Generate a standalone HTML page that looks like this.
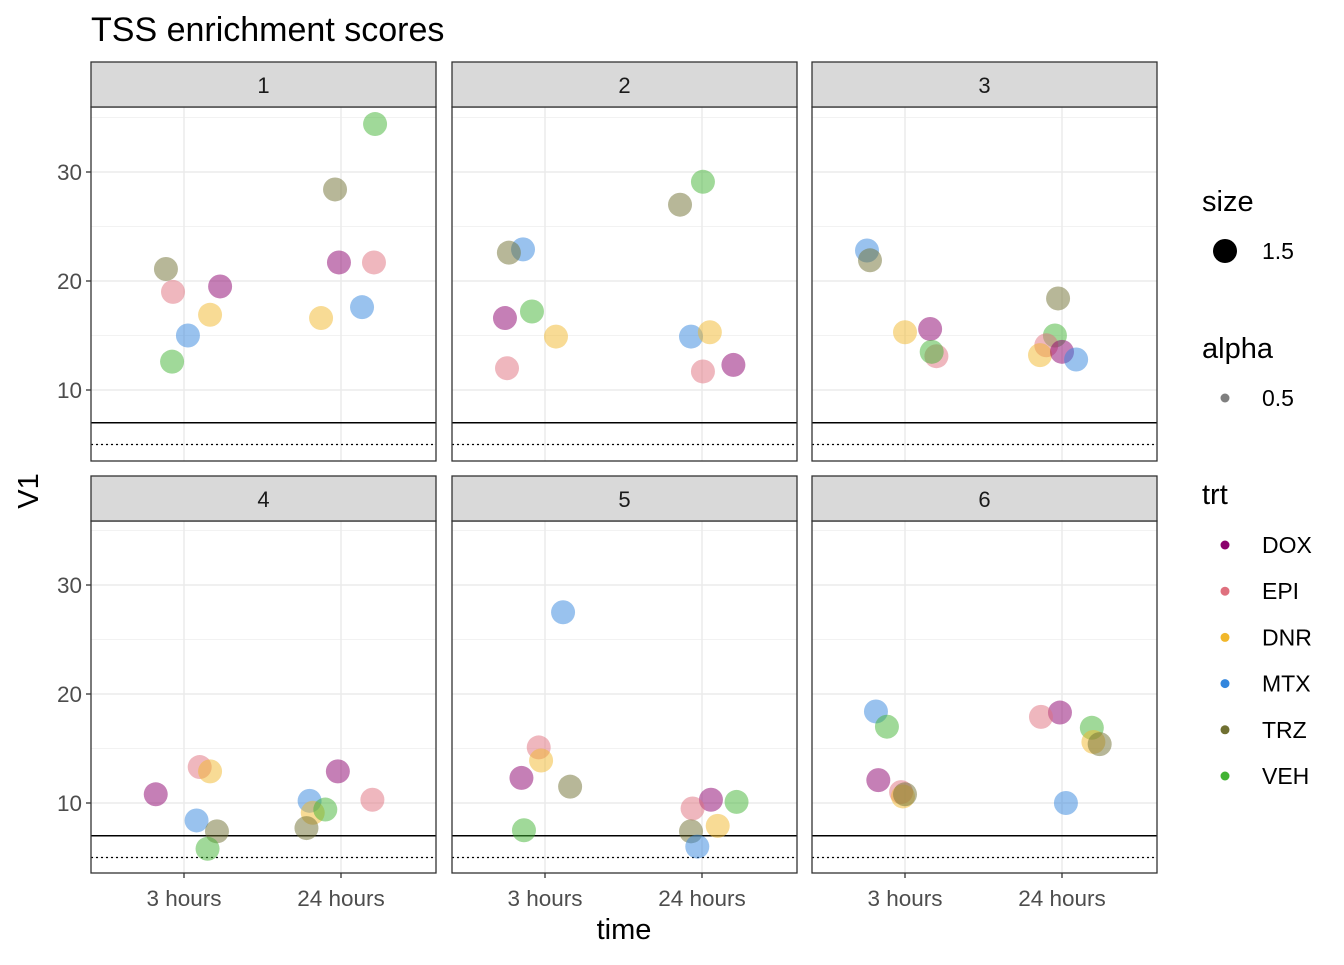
<!DOCTYPE html>
<html><head><meta charset="utf-8"><style>
body{margin:0;background:#fff;font-family:"Liberation Sans",Arial,sans-serif}
</style></head><body>
<svg id="chart" width="1344" height="960" xmlns="http://www.w3.org/2000/svg"></svg>
<script>
const panels=["1","2","3","4","5","6"];
const trtNames=["DOX","EPI","DNR","MTX","TRZ","VEH"];
const trtColors=["#8B006D","#DF707E","#F1B72B","#3386DD","#707031","#41B333"];
const xTickLabels=["3 hours","24 hours"];
const yTicks=[10,20,30];
// per panel: [trt index, jittered x position (1=3h,2=24h), value]
const panelData=[
[[4,0.885,21.1],[1,0.93,19.0],[0,1.23,19.5],[2,1.166,16.9],[3,1.025,15.0],[5,0.924,12.6],
 [5,2.217,34.4],[4,1.962,28.4],[0,1.987,21.7],[1,2.21,21.7],[2,1.873,16.6],[3,2.134,17.6]],
[[3,0.86,22.9],[4,0.77,22.6],[0,0.745,16.6],[5,0.917,17.2],[2,1.07,14.9],[1,0.758,12.0],
 [5,2.006,29.1],[4,1.86,27.0],[3,1.93,14.9],[2,2.05,15.3],[1,2.006,11.7],[0,2.2,12.3]],
[[3,0.758,22.8],[4,0.777,21.9],[2,1.0,15.3],[0,1.16,15.6],[1,1.2,13.1],[5,1.17,13.5],
 [4,1.975,18.4],[5,1.955,15.0],[1,1.9,14.1],[2,1.86,13.2],[0,2.0,13.5],[3,2.09,12.8]],
[[0,0.82,10.8],[1,1.1,13.3],[2,1.166,12.9],[3,1.08,8.4],[4,1.21,7.4],[5,1.15,5.8],
 [0,1.98,12.9],[1,2.2,10.3],[3,1.8,10.2],[2,1.82,9.1],[5,1.9,9.4],[4,1.78,7.7]],
[[3,1.115,27.5],[1,0.96,15.1],[2,0.975,13.9],[0,0.85,12.3],[4,1.16,11.5],[5,0.866,7.5],
 [0,2.057,10.3],[5,2.22,10.1],[1,1.94,9.5],[2,2.1,7.9],[4,1.93,7.4],[3,1.97,6.0]],
[[3,0.815,18.4],[5,0.885,17.0],[0,0.83,12.1],[1,0.975,11.0],[2,0.987,10.6],[4,1.0,10.8],
 [0,1.987,18.3],[1,1.866,17.9],[5,2.19,16.9],[2,2.2,15.6],[4,2.24,15.4],[3,2.025,10.0]]
];
const refLines=[7,5];
const svg=document.getElementById('chart');
const NS="http://www.w3.org/2000/svg";
function mk(tag,attrs,parent,text){const e=document.createElementNS(NS,tag);for(const k in attrs)e.setAttribute(k,attrs[k]);if(text!==undefined)e.textContent=text;(parent||svg).appendChild(e);return e;}
const colX=[91,452,812], W=345, rowY=[62,476], stripH=45, plotH=[354,352];
const pxPerUnit=10.9;
for(let p=0;p<6;p++){
  const c=p%3,r=Math.floor(p/3);
  const x0=colX[c], top=rowY[r]+stripH, h=plotH[r];
  const base10 = r===0?390:803;
  const ys=v=>base10-(v-10)*pxPerUnit;
  const xs=v=>x0+93+(v-1)*157;
  const g=mk('g',{},svg);
  
  
  mk('rect',{x:x0,y:top,width:W,height:h,fill:'#fff'},g);
  for(const v of [5,15,25,35]){const y=ys(v);if(y>top&&y<top+h)mk('line',{x1:x0,x2:x0+W,y1:y,y2:y,stroke:'#f2f2f2','stroke-width':1},g);}
  for(const v of yTicks){const l=mk('line',{x1:x0,x2:x0+W,y1:ys(v),y2:ys(v),stroke:'#ebebeb','stroke-width':1.5},g);}
  for(const v of [1,2])mk('line',{x1:xs(v),x2:xs(v),y1:top,y2:top+h,stroke:'#ebebeb','stroke-width':1.5},g);
  const l1=mk('line',{x1:x0,x2:x0+W,y1:ys(refLines[0]),y2:ys(refLines[0]),stroke:'#000','stroke-width':1.5},g);
  
  const l2=mk('line',{x1:x0,x2:x0+W,y1:ys(refLines[1]),y2:ys(refLines[1]),stroke:'#000','stroke-width':1.3,'stroke-dasharray':'2,3'},g);
  
  for(const d of panelData[p]){
    const pt=mk('circle',{cx:xs(d[1]),cy:ys(d[2]),r:12,fill:trtColors[d[0]],'fill-opacity':0.5},g);
    
    
  }
  mk('rect',{x:x0,y:top,width:W,height:h,fill:'none',stroke:'#333','stroke-width':1.3},g);
  const st=mk('rect',{x:x0,y:rowY[r],width:W,height:stripH,fill:'#d9d9d9',stroke:'#333','stroke-width':1.3},g);
  
  const stt=mk('text',{x:x0+W/2,y:rowY[r]+31,'text-anchor':'middle','font-size':22,fill:'#1a1a1a'},g,panels[p]);
  
  if(c===0){for(const v of yTicks){mk('line',{x1:x0-5,x2:x0,y1:ys(v),y2:ys(v),stroke:'#333','stroke-width':1.3},g);
    const t=mk('text',{x:x0-9,y:ys(v)+8,'text-anchor':'end','font-size':22.5,fill:'#4d4d4d'},g,String(v));
    }}
  if(r===1){for(let i=0;i<2;i++){const xx=xs(i+1);mk('line',{x1:xx,x2:xx,y1:top+h,y2:top+h+5,stroke:'#333','stroke-width':1.3},g);
    const t=mk('text',{x:xx,y:top+h+33,'text-anchor':'middle','font-size':22.5,fill:'#4d4d4d'},g,xTickLabels[i]);
    }}
}
const title=mk('text',{x:91,y:41,'font-size':34,fill:'#000'},svg,'TSS enrichment scores');

const xt=mk('text',{x:624,y:939,'text-anchor':'middle','font-size':29,fill:'#000'},svg,'time');

const yt=mk('text',{x:0,y:0,'text-anchor':'middle','font-size':29,fill:'#000',transform:'translate(38,491) rotate(-90)'},svg,'V1');

// legends
const lg=mk('g',{},svg);

mk('text',{x:1202,y:211,'font-size':29,fill:'#000'},lg,'size');
mk('circle',{cx:1225,cy:251,r:12,fill:'#000'},lg);
mk('text',{x:1262,y:259,'font-size':23,fill:'#000'},lg,'1.5');
mk('text',{x:1202,y:358,'font-size':29,fill:'#000'},lg,'alpha');
mk('circle',{cx:1225,cy:398,r:4.5,fill:'#000','fill-opacity':0.5},lg);
mk('text',{x:1262,y:406,'font-size':23,fill:'#000'},lg,'0.5');
mk('text',{x:1202,y:504,'font-size':29,fill:'#000'},lg,'trt');
for(let i=0;i<trtNames.length;i++){
  const y=545+i*46.2;
  const e=mk('g',{},lg);
  
  
  mk('circle',{cx:1225,cy:y,r:4.5,fill:trtColors[i]},e);
  mk('text',{x:1262,y:y+8,'font-size':23,fill:'#000'},e,trtNames[i]);
}
</script>
</body></html>
